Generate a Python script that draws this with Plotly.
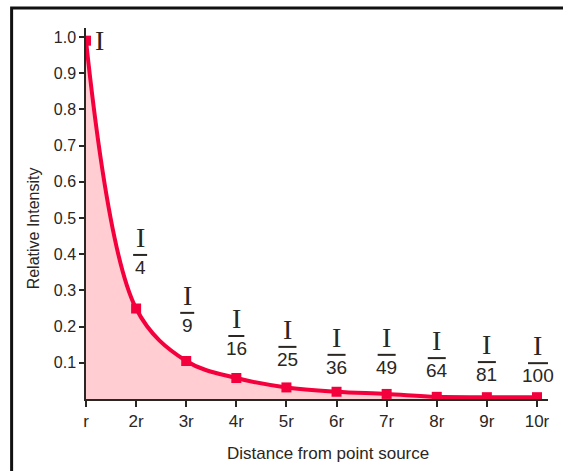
import plotly.graph_objects as go

# distance labels and relative intensity
distances = ["r", "2r", "3r", "4r", "5r", "6r", "7r", "8r", "9r", "10r"]
intensity = [0.99, 0.25, 0.105, 0.058, 0.032, 0.02, 0.014, 0.006, 0.005, 0.005]
denominators = ["4", "9", "16", "25", "36", "49", "64", "81", "100"]
y_ticks = [0.1, 0.2, 0.3, 0.4, 0.5, 0.6, 0.7, 0.8, 0.9, 1.0]

RED = "#f4003c"
PINK = "#ffcdd2"
INK = "#2a2622"
SANS = "Liberation Sans Narrow, Arial Narrow, Liberation Sans, Arial"
SERIF = "Liberation Serif, Times New Roman, DejaVu Serif"

xs = list(range(len(distances)))

fig = go.Figure()
fig.add_trace(go.Scatter(
    x=xs, y=intensity,
    mode="lines+markers",
    line=dict(color=RED, width=4, shape="spline", smoothing=1.0),
    marker=dict(symbol="square", size=10, color=RED),
    fill="tozeroy", fillcolor=PINK,
    hoverinfo="skip", showlegend=False,
))

# fraction labels I / n^2 above each point
bar_y = [0.398, 0.238, 0.174, 0.144, 0.122, 0.122, 0.113, 0.102, 0.099]
x_off = [0.08, 0.02, 0.0, 0.02, 0.0, 0.0, 0.0, 0.0, 0.02]
bar_w = [14, 14, 16, 18, 18, 18, 18, 18, 20]
annotations = []
shapes = []
for i, (den, by) in enumerate(zip(denominators, bar_y)):
    cx = xs[i + 1] + x_off[i]
    annotations.append(dict(x=cx, y=by, xref="x", yref="y", text="I", showarrow=False,
                            yanchor="bottom", yshift=0,
                            font=dict(family=SERIF, size=28, color=INK)))
    annotations.append(dict(x=cx, y=by, xref="x", yref="y", text=den, showarrow=False,
                            yanchor="top", yshift=0,
                            font=dict(family=SANS, size=19, color=INK)))
    shapes.append(dict(type="line", xref="x", yref="y", xsizemode="pixel", xanchor=cx,
                       x0=-bar_w[i] / 2, x1=bar_w[i] / 2, y0=by, y1=by,
                       line=dict(color=INK, width=2)))

# lone I next to the first point
annotations.append(dict(x=0.26, y=0.99, xref="x", yref="y", text="I", showarrow=False,
                        font=dict(family=SERIF, size=28, color=INK)))

# axis titles placed as in the picture
annotations.append(dict(x=0, y=0.46, xref="paper", yref="paper", xshift=-53,
                        xanchor="center", yanchor="middle",
                        text="Relative Intensity", textangle=-90, showarrow=False,
                        font=dict(family=SANS, size=16, color=INK)))
annotations.append(dict(x=0.524, y=0, xref="paper", yref="paper", yshift=-54,
                        xanchor="center", yanchor="middle",
                        text="Distance from point source", showarrow=False,
                        font=dict(family=SANS, size=17, color=INK)))

# frame (top and left edges visible)
shapes.append(dict(type="path", xref="paper", yref="paper",
                   path="M -0.161,-0.3 L -0.161,1.054 L 1.2,1.054",
                   line=dict(color="#111111", width=3)))

fig.update_layout(
    width=563, height=471,
    margin=dict(l=86, r=15, t=28, b=72),
    plot_bgcolor="white", paper_bgcolor="white",
    annotations=annotations, shapes=shapes,
    font=dict(family=SANS, color=INK),
)
fig.update_xaxes(
    range=[0, 9.22], tickvals=xs, ticktext=distances,
    showline=True, linecolor=INK, linewidth=1.5,
    ticks="outside", ticklen=6, tickcolor=INK, tickwidth=1.5,
    showgrid=False, zeroline=False,
    tickfont=dict(family=SANS, size=17, color=INK),
)
fig.update_yaxes(
    range=[0, 1.025], tickvals=y_ticks, ticktext=[f"{v:.1f}" for v in y_ticks],
    showline=True, linecolor=INK, linewidth=1.5,
    ticks="outside", ticklen=5, tickcolor=INK, tickwidth=1.5,
    showgrid=False, zeroline=False,
    tickfont=dict(family=SANS, size=16, color=INK),
)

fig.write_html("out.html", config={"displayModeBar": False},
               post_script="document.body.style.margin='0';")
